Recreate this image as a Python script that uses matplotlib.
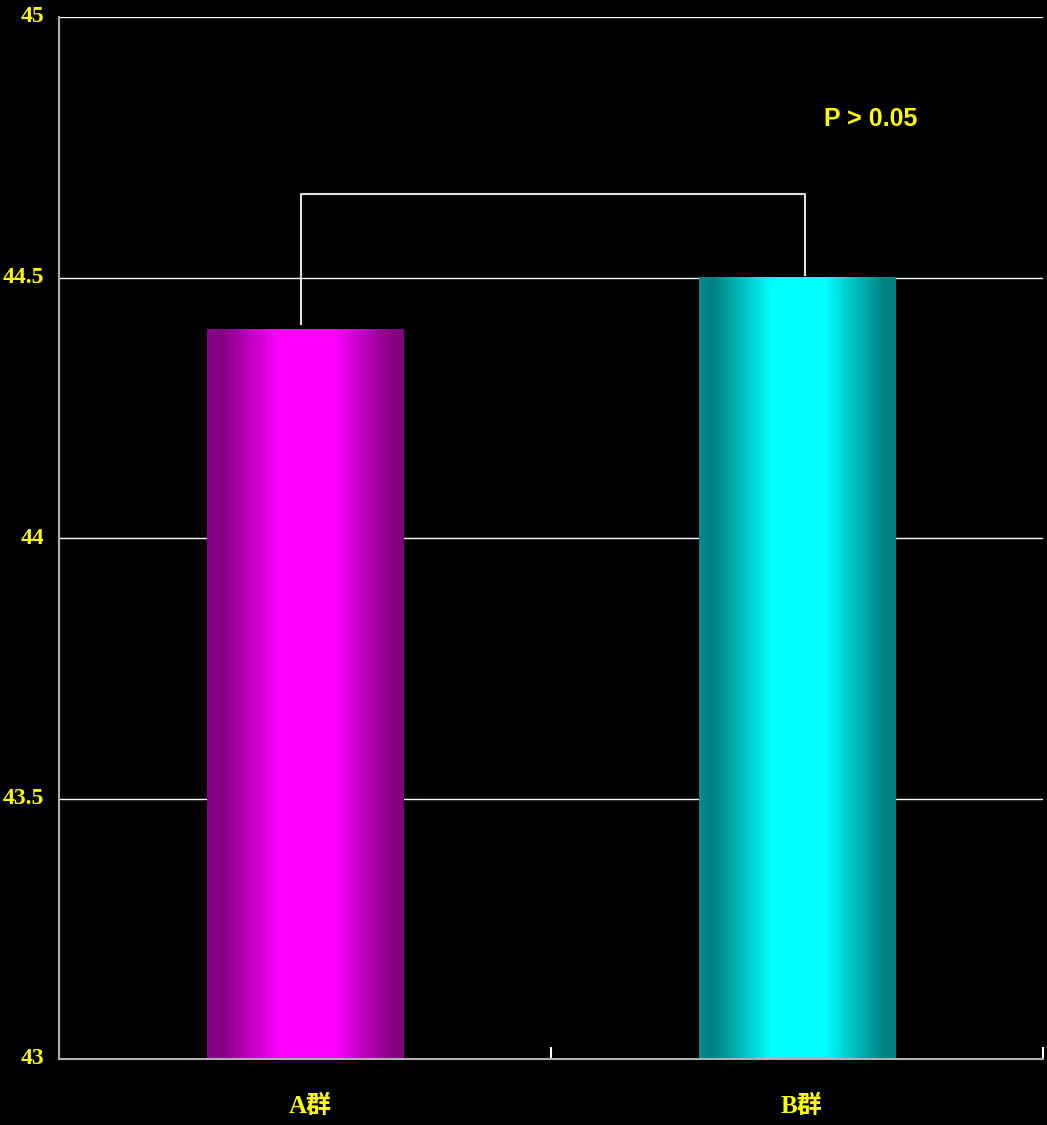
import numpy as np
import matplotlib.pyplot as plt
import matplotlib.transforms as mtransforms
from matplotlib.colors import LinearSegmentedColormap

# data
categories = ['A群', 'B群']
values = [44.4, 44.5]
yticks = [43, 43.5, 44, 44.5, 45]
ytick_labels = ['43', '43.5', '44', '44.5', '45']
p_text = 'P > 0.05'
bracket_ends = [44.41, 44.505]
bracket_top = 44.66

bar_colors = [('#800080', '#ff00ff'), ('#008080', '#00ffff')]
yellow = '#ffff00'

fig = plt.figure(figsize=(10.47, 11.25), dpi=100, facecolor='black')
ax = fig.add_axes([59 / 1047, 1 - 1059 / 1125, (1043 - 59) / 1047, (1059 - 17) / 1125])
ax.set_facecolor('black')

ax.set_xlim(-0.5, 1.5)
ax.set_ylim(43, 45)

# horizontal gridlines
for yv in yticks[1:]:
    ax.axhline(yv, color='white', lw=1, zorder=1)

# bars with a horizontal shading (dark edges, bright middle)
width = 0.4
stops = [0.0, 0.07, 0.37, 0.64, 0.94, 1.0]
for i, (val, (dark, bright)) in enumerate(zip(values, bar_colors)):
    cmap = LinearSegmentedColormap.from_list(
        'g%d' % i, [(0.0, dark), (1.0, bright)])
    xs = np.linspace(0, 1, 400)
    prof = np.interp(xs, stops, [0.08, 0.0, 1.0, 1.0, 0.0, 0.0])
    ax.imshow(prof[np.newaxis, :], cmap=cmap, vmin=0, vmax=1, aspect='auto',
              extent=[i - width / 2, i + width / 2, 43, val], zorder=2,
              interpolation='bilinear')

# significance bracket
ax.plot([-0.008, -0.008, 1.016, 1.016],
        [bracket_ends[0], bracket_top, bracket_top, bracket_ends[1]],
        color='#e0e0e0', lw=1.5, zorder=3)
ax.text(1.15, 44.805, p_text, color=yellow, fontsize=18,
        family='Liberation Sans', fontweight='bold',
        ha='center', va='center')

# axes styling
for s in ['top', 'right']:
    ax.spines[s].set_visible(False)
for s in ['left', 'bottom']:
    ax.spines[s].set_color('#b0b0b0')
    ax.spines[s].set_linewidth(1.5)

# y labels right-aligned left of the axis
ax.set_yticks(yticks)
ax.set_yticklabels([])
ax.tick_params(axis='y', length=0)
trans = mtransforms.blended_transform_factory(ax.transAxes, ax.transData)
for yv, lab in zip(yticks, ytick_labels):
    ax.text(-15 / 984, yv, lab, transform=trans, color=yellow, fontsize=17,
            fontweight='bold', family='Liberation Serif',
            ha='right', va='center')

ax.set_xticks([0.5, 1.5])
ax.set_xticklabels([])
ax.tick_params(axis='x', direction='in', length=9, width=1.5, color='white')

for i, c in enumerate(categories):
    ax.text(i + 0.01, 42.91, c, color=yellow, fontsize=18, fontweight='bold',
            family=['Liberation Serif', 'Noto Sans CJK SC'],
            ha='center', va='center', clip_on=False)

fig.savefig('out.png', dpi=100, facecolor='black')
